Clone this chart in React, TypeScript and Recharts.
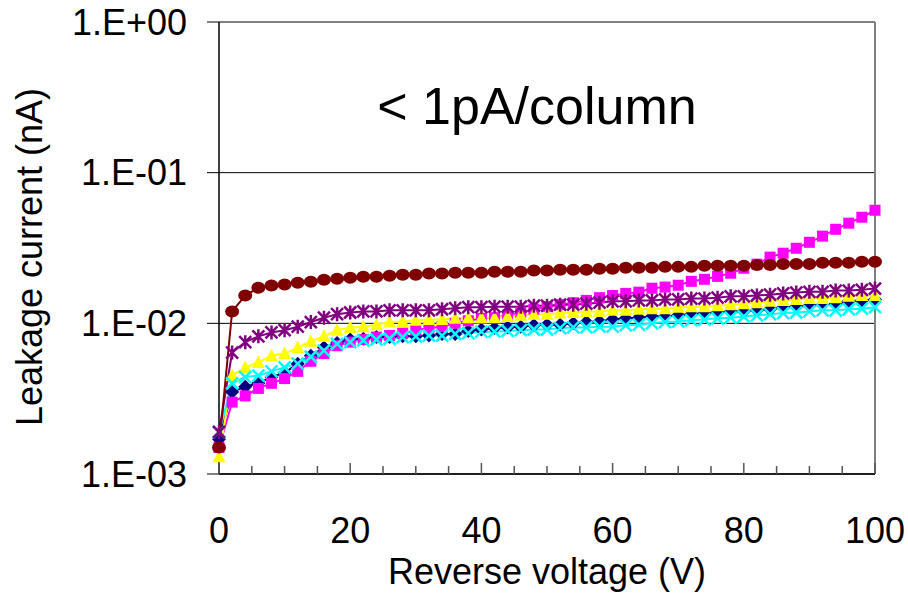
import { LineChart, Line, XAxis, YAxis, CartesianGrid, ReferenceLine } from "recharts";

const FONT = "'Liberation Sans', Arial, sans-serif";

// reverse bias (V)
const volts = [
  0, 2, 4, 6, 8, 10, 12, 14, 16, 18, 20, 22, 24, 26, 28, 30, 32, 34, 36, 38, 40, 42, 44, 46, 48, 50,
  52, 54, 56, 58, 60, 62, 64, 66, 68, 70, 72, 74, 76, 78, 80, 82, 84, 86, 88, 90, 92, 94, 96, 98, 100,
];

// leakage current (nA), one array per sample
const navy = [
  0.0017, 0.0035, 0.0038, 0.004, 0.0044, 0.0047, 0.0054, 0.0061, 0.0069, 0.0074, 0.0078, 0.0079, 0.0081,
  0.0081, 0.0082, 0.0082, 0.0083, 0.0085, 0.0085, 0.0089, 0.0091, 0.0093, 0.0094, 0.0095, 0.0097, 0.0098,
  0.0098, 0.01, 0.0102, 0.0103, 0.0106, 0.0108, 0.0109, 0.0111, 0.0111, 0.0113, 0.0115, 0.0117, 0.0118,
  0.012, 0.012, 0.0122, 0.0124, 0.0128, 0.0129, 0.0131, 0.0133, 0.0135, 0.014, 0.0142, 0.0144,
];
const magenta = [
  0.0015, 0.003, 0.0033, 0.0037, 0.004, 0.0043, 0.0048, 0.0056, 0.0063, 0.0071, 0.0075, 0.0078, 0.0081,
  0.0083, 0.0086, 0.009, 0.0093, 0.0095, 0.01, 0.0104, 0.0108, 0.0109, 0.0113, 0.0118, 0.0124, 0.0129,
  0.0133, 0.0137, 0.0142, 0.0148, 0.0153, 0.0158, 0.0161, 0.0171, 0.0174, 0.0179, 0.019, 0.0196, 0.0205,
  0.0215, 0.0232, 0.0247, 0.0275, 0.0292, 0.0315, 0.0345, 0.0379, 0.0421, 0.0462, 0.0506, 0.0563,
];
const yellow = [
  0.0013, 0.0045, 0.0051, 0.0055, 0.0061, 0.0063, 0.0069, 0.0076, 0.0082, 0.009, 0.0094, 0.0095, 0.0098,
  0.0102, 0.0103, 0.0105, 0.0106, 0.0106, 0.0108, 0.0109, 0.0109, 0.0109, 0.0111, 0.0113, 0.0115, 0.0115,
  0.0117, 0.0118, 0.012, 0.012, 0.0122, 0.0122, 0.0124, 0.0125, 0.0125, 0.0128, 0.0129, 0.0129, 0.0131,
  0.0133, 0.0135, 0.0137, 0.014, 0.0142, 0.0144, 0.0146, 0.0146, 0.0148, 0.0151, 0.0153, 0.0153,
];
const cyan = [
  0.0019, 0.004, 0.0044, 0.0045, 0.0048, 0.0051, 0.0054, 0.006, 0.0066, 0.0073, 0.0075, 0.0077, 0.0078,
  0.0079, 0.0081, 0.0082, 0.0083, 0.0083, 0.0085, 0.0086, 0.0088, 0.0088, 0.0089, 0.009, 0.0091, 0.0091,
  0.0093, 0.0094, 0.0094, 0.0095, 0.0095, 0.0097, 0.0098, 0.01, 0.0102, 0.0103, 0.0105, 0.0106, 0.0108,
  0.0109, 0.0111, 0.0113, 0.0115, 0.0117, 0.0118, 0.012, 0.0122, 0.0122, 0.0124, 0.0125, 0.0128,
];
const purple = [
  0.0019, 0.0064, 0.0075, 0.0082, 0.0087, 0.009, 0.0095, 0.0102, 0.0109, 0.0115, 0.0118, 0.012, 0.012,
  0.0122, 0.0122, 0.0122, 0.0122, 0.0124, 0.0126, 0.0128, 0.0128, 0.0129, 0.0129, 0.0129, 0.0131, 0.0131,
  0.0133, 0.0133, 0.0135, 0.0137, 0.014, 0.014, 0.0142, 0.0142, 0.0144, 0.0144, 0.0146, 0.0146, 0.0148,
  0.0151, 0.0151, 0.0153, 0.0155, 0.0158, 0.016, 0.0162, 0.0162, 0.0165, 0.0165, 0.0167, 0.017,
];
const maroon = [
  0.0015, 0.012, 0.0153, 0.0172, 0.0178, 0.0181, 0.0186, 0.0189, 0.0195, 0.0198, 0.0201, 0.0204, 0.0204,
  0.0207, 0.021, 0.021, 0.0214, 0.0214, 0.0217, 0.0217, 0.0217, 0.022, 0.022, 0.022, 0.0224, 0.0224,
  0.0227, 0.0227, 0.0227, 0.023, 0.023, 0.0234, 0.0234, 0.0234, 0.0237, 0.0237, 0.0237, 0.0241, 0.0241,
  0.0241, 0.0241, 0.0244, 0.0244, 0.0248, 0.0248, 0.0248, 0.0252, 0.0252, 0.0252, 0.0256, 0.0256,
];

const xTicks = [0, 5, 10, 15, 20, 25, 30, 35, 40, 45, 50, 55, 60, 65, 70, 75, 80, 85, 90, 95, 100];
const yTicks = [0.001, 0.01, 0.1, 1];
const yTickLabels = ["1.E-03", "1.E-02", "1.E-01", "1.E+00"];

const chartData = volts.map((v, i) => ({
  v,
  navy: navy[i],
  magenta: magenta[i],
  yellow: yellow[i],
  cyan: cyan[i],
  purple: purple[i],
  maroon: maroon[i],
}));

const diamond = (p: any) => (
  <polygon
    key={`d${p.index}`}
    points={`${p.cx},${p.cy - 7} ${p.cx + 7},${p.cy} ${p.cx},${p.cy + 7} ${p.cx - 7},${p.cy}`}
    fill="#000080"
  />
);
const square = (p: any) => (
  <rect key={`s${p.index}`} x={p.cx - 5.5} y={p.cy - 5.5} width={11} height={11} fill="#FF00FF" />
);
const triangle = (p: any) => (
  <polygon
    key={`t${p.index}`}
    points={`${p.cx},${p.cy - 7} ${p.cx + 6.5},${p.cy + 5.5} ${p.cx - 6.5},${p.cy + 5.5}`}
    fill="#FFFF00"
  />
);
const cross = (p: any) => (
  <path
    key={`x${p.index}`}
    d={`M${p.cx - 6},${p.cy - 6}L${p.cx + 6},${p.cy + 6}M${p.cx - 6},${p.cy + 6}L${p.cx + 6},${p.cy - 6}`}
    stroke="#00FFFF"
    strokeWidth={2.5}
  />
);
const star = (p: any) => (
  <path
    key={`a${p.index}`}
    d={`M${p.cx - 6},${p.cy - 6}L${p.cx + 6},${p.cy + 6}M${p.cx - 6},${p.cy + 6}L${p.cx + 6},${p.cy - 6}M${p.cx},${p.cy - 7}L${p.cx},${p.cy + 7}`}
    stroke="#800080"
    strokeWidth={2.5}
  />
);
const circle = (p: any) => (
  <ellipse key={`c${p.index}`} cx={p.cx} cy={p.cy} rx={7} ry={6} fill="#800000" />
);

const XTick = (props: any) => {
  const { x, y, payload } = props;
  const major = payload.value % 20 === 0;
  return (
    <g>
      <line x1={x} x2={x} y1={y - (major ? 11 : 8)} y2={y} stroke="#555" strokeWidth={1.5} />
      {major && (
        <text x={x} y={y + 69} textAnchor="middle" fontSize={36} fill="#000" fontFamily={FONT}>
          {payload.value}
        </text>
      )}
    </g>
  );
};

export default function App() {
  return (
    <div style={{ position: "absolute", left: 0, top: 0, background: "#fff" }}>
      <LineChart
        width={908}
        height={595}
        data={chartData}
        margin={{ top: 22, right: 33, left: 0, bottom: 0 }}
      >
        <CartesianGrid vertical={false} stroke="#000" strokeWidth={1} />
        <XAxis
          dataKey="v"
          type="number"
          domain={[0, 100]}
          ticks={xTicks}
          interval={0}
          height={121}
          tickSize={0}
          tickMargin={0}
          tickLine={false}
          axisLine={{ stroke: "#000", strokeWidth: 1.5 }}
          tick={<XTick />}
          label={{
            value: "Reverse voltage (V)",
            position: "insideBottom",
            offset: 11,
            fontSize: 36,
            fill: "#000",
            fontFamily: FONT,
          }}
        />
        <YAxis
          type="number"
          scale="log"
          domain={[0.001, 1]}
          allowDataOverflow
          ticks={yTicks}
          interval={0}
          width={219}
          tickSize={12}
          tickMargin={20}
          tickFormatter={(v: number) => yTickLabels[yTicks.indexOf(v)]}
          axisLine={{ stroke: "#000", strokeWidth: 1.5 }}
          tickLine={{ stroke: "#000" }}
          tick={{ fontSize: 36, fill: "#000", fontFamily: FONT }}
        />
        <ReferenceLine y={1} stroke="#808080" strokeWidth={2} />
        <ReferenceLine x={100} stroke="#808080" strokeWidth={2} />
        <Line type="linear" dataKey="navy" stroke="#000080" strokeWidth={2} dot={diamond} isAnimationActive={false} />
        <Line type="linear" dataKey="magenta" stroke="#FF00FF" strokeWidth={2} dot={square} isAnimationActive={false} />
        <Line type="linear" dataKey="yellow" stroke="#FFFF00" strokeWidth={2} dot={triangle} isAnimationActive={false} />
        <Line type="linear" dataKey="cyan" stroke="#00FFFF" strokeWidth={2} dot={cross} isAnimationActive={false} />
        <Line type="linear" dataKey="purple" stroke="#800080" strokeWidth={2} dot={star} isAnimationActive={false} />
        <Line type="linear" dataKey="maroon" stroke="#800000" strokeWidth={2} dot={circle} isAnimationActive={false} />
        <text
          x={-257}
          y={42}
          transform="rotate(-90)"
          textAnchor="middle"
          fontSize={36}
          fill="#000"
          fontFamily={FONT}
        >
          Leakage current (nA)
        </text>
        <text x={537} y={124} textAnchor="middle" fontSize={52} fill="#000" fontFamily={FONT}>
          {"< 1pA/column"}
        </text>
      </LineChart>
    </div>
  );
}
